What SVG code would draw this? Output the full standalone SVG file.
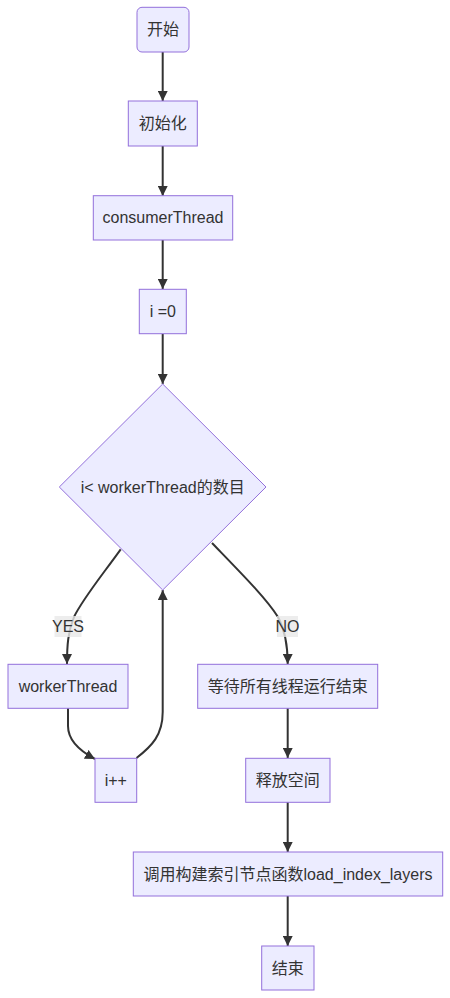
<svg xmlns="http://www.w3.org/2000/svg" width="450" height="998" viewBox="0 0 450 998">
<style>
.n{fill:#ECECFF;stroke:#9370DB;stroke-width:1}
.t{font-family:"Liberation Sans","Noto Sans CJK SC",sans-serif;font-size:16px;fill:#333333;text-anchor:middle;dominant-baseline:central}
.e{fill:none;stroke:#333333;stroke-width:2}
.lb{fill:#e8e8e8;opacity:0.8}
</style>
<defs>
<marker id="ah" viewBox="0 0 10 10" refX="10" refY="5" markerWidth="10" markerHeight="10" markerUnits="userSpaceOnUse" orient="auto">
<path d="M0,0 L10,5 L0,10 z" fill="#333333"/>
</marker>
</defs>
<g id="edges">
<path class="e" d="M162.7,52 L162.7,101" marker-end="url(#ah)"/>
<path class="e" d="M162.7,146 L162.7,196" marker-end="url(#ah)"/>
<path class="e" d="M162.7,240 L162.7,289" marker-end="url(#ah)"/>
<path class="e" d="M162.7,334 L162.7,384" marker-end="url(#ah)"/>
<path class="e" d="M120.7,549.3 C100,578 82,600 74,617 C68,632 67,645 67,664" marker-end="url(#ah)"/>
<path class="e" d="M212,543 C240,572 266,598 278,617 C285,630 287.7,645 287.7,664" marker-end="url(#ah)"/>
<path class="e" d="M68,708 L68,726 C68,740 78,750 95,759" marker-end="url(#ah)"/>
<path class="e" d="M136.5,758 C152,746 162.7,735 162.7,712 L162.7,590" marker-end="url(#ah)"/>
<path class="e" d="M287.7,708 L287.7,758" marker-end="url(#ah)"/>
<path class="e" d="M287.7,802 L287.7,852" marker-end="url(#ah)"/>
<path class="e" d="M287.7,896 L287.7,946" marker-end="url(#ah)"/>
<rect class="lb" x="54.5" y="616" width="27" height="21"/>
<text class="t" x="68" y="626.5">YES</text>
<rect class="lb" x="277" y="616" width="21" height="21"/>
<text class="t" x="287.5" y="626.5">NO</text>
</g>
<g id="start"><rect class="n" x="137" y="7.3" width="52" height="44.7" rx="5"/><text class="t" x="163" y="29.7">开始</text></g>
<g id="init"><rect class="n" x="128.3" y="101" width="69" height="45"/><text class="t" x="162.8" y="123.5">初始化</text></g>
<g id="consumer"><rect class="n" x="93.3" y="195.7" width="139.4" height="44.3"/><text class="t" x="163" y="217.8">consumerThread</text></g>
<g id="i0"><rect class="n" x="139.3" y="289.3" width="47" height="44.4"/><text class="t" x="162.8" y="311.5">i =0</text></g>
<g id="cond"><polygon class="n" points="162.7,384 266,487 162.7,590 59.3,487"/><text class="t" x="162.7" y="487">i&lt; workerThread的数目</text></g>
<g id="worker"><rect class="n" x="8" y="664.3" width="120" height="44"/><text class="t" x="68" y="686.3">workerThread</text></g>
<g id="inc"><rect class="n" x="95" y="758.3" width="41.7" height="44"/><text class="t" x="115.8" y="780.3">i++</text></g>
<g id="wait"><rect class="n" x="197.7" y="664.3" width="180" height="44"/><text class="t" x="287.7" y="686.3">等待所有线程运行结束</text></g>
<g id="free"><rect class="n" x="245.7" y="758.3" width="84.3" height="44"/><text class="t" x="287.8" y="780.3">释放空间</text></g>
<g id="call"><rect class="n" x="133.3" y="852" width="309.4" height="44"/><text class="t" x="288" y="874">调用构建索引节点函数load_index_layers</text></g>
<g id="end"><rect class="n" x="261.7" y="946" width="52.3" height="44"/><text class="t" x="287.8" y="968">结束</text></g>
</svg>
